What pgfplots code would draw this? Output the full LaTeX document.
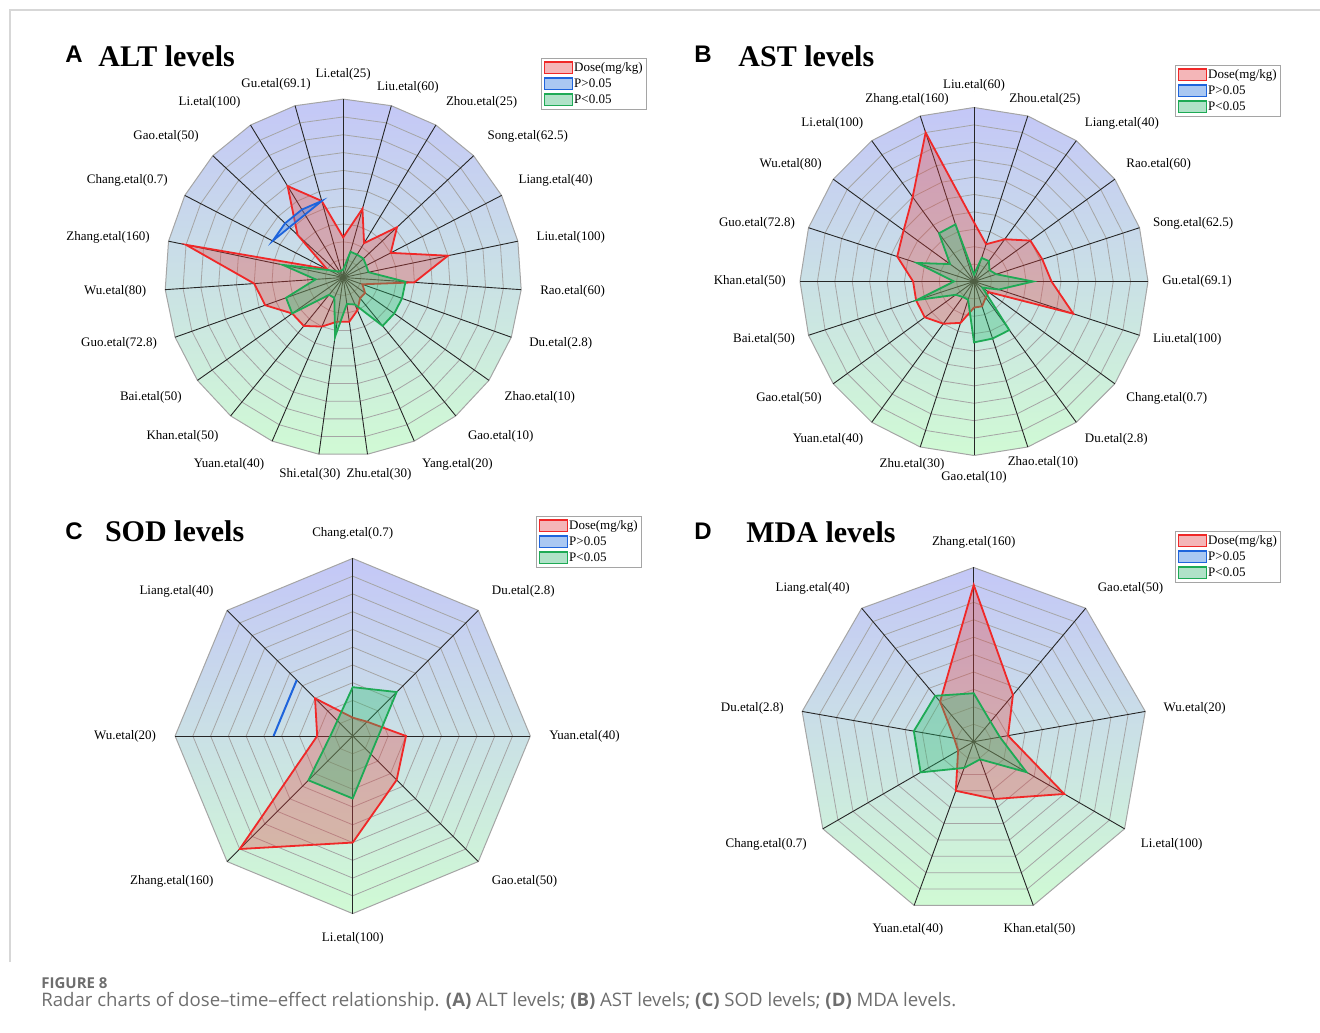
\documentclass[border=0pt]{standalone}
\usepackage{fontspec}
\setmainfont{Liberation Serif}
\newfontfamily\sansA{Liberation Sans}
\newfontfamily\capfont{Open Sans}
\usepackage{pgfplots}
\usepackage{pgfplotstable}
\pgfplotsset{compat=1.18}

\definecolor{bgTop}{RGB}{196,199,247}
\definecolor{bgMid}{RGB}{204,230,240}
\definecolor{bgBot}{RGB}{208,250,212}
\definecolor{ringc}{RGB}{165,165,165}
\definecolor{redL}{RGB}{240,40,40}
\definecolor{redF}{RGB}{232,60,60}
\definecolor{grnL}{RGB}{30,170,85}
\definecolor{grnF}{RGB}{40,190,110}
\definecolor{bluL}{RGB}{30,100,220}
\definecolor{bluF}{RGB}{70,130,230}
\definecolor{redP}{RGB}{244,182,184}
\definecolor{bluP}{RGB}{170,200,242}
\definecolor{grnP}{RGB}{176,226,200}
\definecolor{capgray}{RGB}{110,110,110}
\definecolor{framec}{RGB}{215,215,215}

\newcommand\lbl{\fontsize{6.5pt}{7.5pt}\selectfont}

% radius in plot units = value + 20 (centre of each radar = -20, outer ring = 180)
\pgfplotstableread{
ang red green
90 45 9
74.348 80 30
58.696 45 30
43.043 82.5 31
27.391 60 29
11.739 120 29
-3.913 80 70
-19.565 22.8 70
-35.217 30 70
-50.870 30 70
-66.522 40 33
-82.174 50 30
-97.826 50 67
-113.478 60 25
-129.130 70 25
-144.783 70 70
-160.435 92.8 68
-176.087 100 31
-191.739 180 69
-207.391 20.7 18
-223.043 70 10
-238.696 120 8
-254.348 89.1 8
}\tA

\pgfplotstableread{
ang red green
90 68 8
72 45 28.5
54 60 29
36 80 22
18 82.5 27
0 89.1 68
-18 120 30
-36 20.7 12
-54 22.8 69
-72 30 69
-90 30 70
-108 50 22
-126 60 22
-144 70 26
-162 70 69
-180 70 23
-198 92.8 69
-216 100 34
-234 120 68.5
-252 180 69
}\tB

\pgfplotstableread{
ang red green
90 20.7 55
45 22.8 70
0 60 28.9
-45 70 28.9
-90 120 70.4
-135 180 70.5
-180 40 25.2
-225 60 24.4
}\tC

\pgfplotstableread{
ang red green
90 180 55.6
50 70 30
10 40 30.5
-30 120 70
-70 70 21.5
-110 60 32
-150 20.7 70.4
-190 22.8 69.8
-230 60 68.8
}\tD

\pgfplotsset{
  radar/.style={hide axis, clip=false, anchor=center,
    xmin=-200, xmax=200, ymin=-200, ymax=200,
    legend image code/.code={\draw[##1] (0pt,-2.9pt) rectangle (14pt,2.9pt);},
    legend style={draw=ringc, fill=white, font=\lbl, anchor=north west,
      inner xsep=1.2pt, inner ysep=1pt, row sep=0.6pt,
      nodes={inner sep=0.6pt, text height=4.8pt, text depth=1.4pt},
      legend cell align=left}},
  bgpoly/.style={data cs=polar, draw=ringc, line width=0.5pt, top color=bgTop, middle color=bgMid, bottom color=bgBot, forget plot},
  ring/.style={data cs=polar, draw=ringc, line width=0.4pt, forget plot},
  spoke/.style={data cs=polar, draw=black!85, line width=0.45pt, forget plot},
  redpoly/.style={data cs=polar, draw=redL, line width=0.9pt, fill=redF, fill opacity=0.32, forget plot},
  grnpoly/.style={data cs=polar, draw=grnL, line width=0.9pt, fill=grnF, fill opacity=0.35, forget plot},
  blupoly/.style={data cs=polar, draw=bluL, line width=0.9pt, fill=bluF, fill opacity=0.35, forget plot},
  lab/.style={data cs=polar, only marks, mark=*, mark size=0pt, mark options={draw=none, fill=none},
    point meta=explicit symbolic, nodes near coords={\pgfplotspointmeta},
    every node near coord/.append style={anchor=#1, font=\lbl, inner sep=0pt, text=black},
    forget plot},
  labs/.style n args={3}{lab=#1, every node near coord/.append style={xshift=#2, yshift=#3}},
}

\newcommand\legentries{%
  \addlegendimage{draw=redL, fill=redP, line width=0.6pt}
  \addlegendentry{Dose(mg/kg)}
  \addlegendimage{draw=bluL, fill=bluP, line width=0.6pt}
  \addlegendentry{P>0.05}
  \addlegendimage{draw=grnL, fill=grnP, line width=0.6pt}
  \addlegendentry{P<0.05}}

\begin{document}
\begin{tikzpicture}
\draw[framec, line width=0.6pt] (5pt,35pt) -- (5pt,511pt) -- (660pt,511pt);

% ---------------- A: ALT ----------------
\begin{axis}[radar, at={(171.6pt,377.25pt)}, x=0.446pt, y=0.446pt,
  legend style={at={(1.0544,1.1152)}}]
\addplot[bgpoly] table[x=ang, y expr=200]{\tA} -- cycle;
\pgfplotsinvokeforeach{20,40,...,180}{\addplot[ring] table[x=ang, y expr=#1]{\tA} -- cycle;}
\pgfplotsinvokeforeach{90,74.348,58.696,43.043,27.391,11.739,-3.913,-19.565,-35.217,-50.870,-66.522,-82.174,-97.826,-113.478,-129.130,-144.783,-160.435,-176.087,-191.739,-207.391,-223.043,-238.696,-254.348}{\addplot[spoke] coordinates {(#1,0) (#1,200)};}
\addplot[redpoly] table[x=ang, y=red]{\tA} -- cycle;
\addplot[grnpoly] table[x=ang, y=green]{\tA} -- cycle;
\addplot[blupoly] coordinates {(-254.348,89.1) (-238.696,89.1) (-223.043,89.1) (-207.391,89.1)} -- cycle;
\addplot[lab=south] coordinates {(90,221)[Li.etal(25)]};
\addplot[labs={center}{5.75pt}{0pt}] coordinates {(74.348,221)[Liu.etal(60)]};
\addplot[labs={center}{-7pt}{1.9pt}] coordinates {(-254.348,221)[Gu.etal(69.1)]};
\addplot[lab=south west] coordinates {(58.696,221)[Zhou.etal(25)] (43.043,221)[Song.etal(62.5)] (27.391,221)[Liang.etal(40)]};
\addplot[lab=west] coordinates {(11.739,221)[Liu.etal(100)] (-3.913,221)[Rao.etal(60)] (-19.565,221)[Du.etal(2.8)]};
\addplot[lab=north west] coordinates {(-35.217,221)[Zhao.etal(10)] (-50.870,221)[Gao.etal(10)] (-66.522,221)[Yang.etal(20)]};
\addplot[labs={center}{4.5pt}{-0.65pt}] coordinates {(-82.174,221)[Zhu.etal(30)]};
\addplot[labs={center}{-3.2pt}{-0.65pt}] coordinates {(-97.826,221)[Shi.etal(30)]};
\addplot[lab=north east] coordinates {(-113.478,221)[Yuan.etal(40)] (-129.130,221)[Khan.etal(50)] (-144.783,221)[Bai.etal(50)]};
\addplot[lab=east] coordinates {(-160.435,221)[Guo.etal(72.8)] (-176.087,221)[Wu.etal(80)] (-191.739,221)[Zhang.etal(160)]};
\addplot[lab=south east] coordinates {(-207.391,221)[Chang.etal(0.7)] (-223.043,221)[Gao.etal(50)] (-238.696,221)[Li.etal(100)]};
\legentries
\end{axis}

% ---------------- B: AST ----------------
\begin{axis}[radar, at={(487pt,375.25pt)}, x=0.435pt, y=0.435pt,
  legend style={at={(1.0776,1.1221)}}]
\addplot[bgpoly] table[x=ang, y expr=200]{\tB} -- cycle;
\pgfplotsinvokeforeach{20,40,...,180}{\addplot[ring] table[x=ang, y expr=#1]{\tB} -- cycle;}
\pgfplotsinvokeforeach{90,72,...,-252}{\addplot[spoke] coordinates {(#1,0) (#1,200)};}
\addplot[redpoly] table[x=ang, y=red]{\tB} -- cycle;
\addplot[grnpoly] table[x=ang, y=green]{\tB} -- cycle;
\addplot[lab=south] coordinates {(90,218)[Liu.etal(60)]};
\addplot[labs={center}{6.45pt}{1.85pt}] coordinates {(72,216)[Zhou.etal(25)]};
\addplot[labs={center}{-4.45pt}{1.85pt}] coordinates {(-252,216)[Zhang.etal(160)]};
\addplot[lab=south west] coordinates {(54,216)[Liang.etal(40)] (36,216)[Rao.etal(60)]};
\addplot[lab=west] coordinates {(18,216)[Song.etal(62.5)] (0,216)[Gu.etal(69.1)] (-18,216)[Liu.etal(100)]};
\addplot[lab=north west] coordinates {(-36,216)[Chang.etal(0.7)] (-54,216)[Du.etal(2.8)]};
\addplot[labs={center}{5.45pt}{-0.85pt}] coordinates {(-72,216)[Zhao.etal(10)]};
\addplot[lab=north] coordinates {(-90,218)[Gao.etal(10)]};
\addplot[labs={center}{-1.95pt}{-1.85pt}] coordinates {(-108,216)[Zhu.etal(30)]};
\addplot[lab=north east] coordinates {(-126,216)[Yuan.etal(40)] (-144,216)[Gao.etal(50)]};
\addplot[lab=east] coordinates {(-162,216)[Bai.etal(50)] (-180,216)[Khan.etal(50)] (-198,216)[Guo.etal(72.8)]};
\addplot[lab=south east] coordinates {(-216,216)[Wu.etal(80)] (-234,216)[Li.etal(100)]};
\legentries
\end{axis}

% ---------------- C: SOD ----------------
\begin{axis}[radar, at={(176.35pt,148pt)}, x=0.444pt, y=0.444pt,
  legend style={at={(1.016,1.1194)}}]
\addplot[bgpoly] table[x=ang, y expr=200]{\tC} -- cycle;
\pgfplotsinvokeforeach{20,40,...,180}{\addplot[ring] table[x=ang, y expr=#1]{\tC} -- cycle;}
\pgfplotsinvokeforeach{90,45,...,-225}{\addplot[spoke] coordinates {(#1,0) (#1,200)};}
\addplot[redpoly] table[x=ang, y=red]{\tC} -- cycle;
\addplot[grnpoly] table[x=ang, y=green]{\tC} -- cycle;
\addplot[data cs=polar, draw=bluL, line width=1pt, forget plot] coordinates {(-225,89.1) (-180,89.1)};
\addplot[lab=south] coordinates {(90,221)[Chang.etal(0.7)]};
\addplot[lab=south west] coordinates {(45,221)[Du.etal(2.8)]};
\addplot[lab=west] coordinates {(0,221)[Yuan.etal(40)]};
\addplot[lab=north west] coordinates {(-45,221)[Gao.etal(50)]};
\addplot[lab=north] coordinates {(-90,221)[Li.etal(100)]};
\addplot[lab=north east] coordinates {(-135,221)[Zhang.etal(160)]};
\addplot[lab=east] coordinates {(-180,221)[Wu.etal(20)]};
\addplot[lab=south east] coordinates {(-225,221)[Liang.etal(40)]};
\legentries
\end{axis}

% ---------------- D: MDA ----------------
\begin{axis}[radar, at={(486.85pt,145.15pt)}, x=0.4355pt, y=0.4355pt,
  legend style={at={(1.0778,1.1048)}}]
\addplot[bgpoly] table[x=ang, y expr=200]{\tD} -- cycle;
\pgfplotsinvokeforeach{20,40,...,180}{\addplot[ring] table[x=ang, y expr=#1]{\tD} -- cycle;}
\pgfplotsinvokeforeach{90,50,...,-230}{\addplot[spoke] coordinates {(#1,0) (#1,200)};}
\addplot[redpoly] table[x=ang, y=red]{\tD} -- cycle;
\addplot[grnpoly] table[x=ang, y=green]{\tD} -- cycle;
\addplot[lab=south] coordinates {(90,221)[Zhang.etal(160)]};
\addplot[lab=south west] coordinates {(50,221)[Gao.etal(50)]};
\addplot[lab=west] coordinates {(10,221)[Wu.etal(20)]};
\addplot[lab=north west] coordinates {(-30,221)[Li.etal(100)]};
\addplot[lab=north] coordinates {(-70,221)[Khan.etal(50)] (-110,221)[Yuan.etal(40)]};
\addplot[lab=north east] coordinates {(-150,221)[Chang.etal(0.7)]};
\addplot[lab=east] coordinates {(-190,221)[Du.etal(2.8)]};
\addplot[lab=south east] coordinates {(-230,221)[Liang.etal(40)]};
\legentries
\end{axis}

% titles
\node[anchor=base west, inner sep=0pt, font=\sansA\bfseries\fontsize{12pt}{12pt}\selectfont] at (32.5pt,484.5pt) {A};
\node[anchor=base west, inner sep=0pt, font=\bfseries\fontsize{15pt}{15pt}\selectfont] at (49pt,482.7pt) {ALT levels};
\node[anchor=base west, inner sep=0pt, font=\sansA\bfseries\fontsize{12pt}{12pt}\selectfont] at (347pt,484.5pt) {B};
\node[anchor=base west, inner sep=0pt, font=\bfseries\fontsize{15pt}{15pt}\selectfont] at (369pt,482.7pt) {AST levels};
\node[anchor=base west, inner sep=0pt, font=\sansA\bfseries\fontsize{12pt}{12pt}\selectfont] at (32.5pt,246pt) {C};
\node[anchor=base west, inner sep=0pt, font=\bfseries\fontsize{15pt}{15pt}\selectfont] at (52.3pt,245.2pt) {SOD levels};
\node[anchor=base west, inner sep=0pt, font=\sansA\bfseries\fontsize{12pt}{12pt}\selectfont] at (347pt,246pt) {D};
\node[anchor=base west, inner sep=0pt, font=\bfseries\fontsize{15pt}{15pt}\selectfont] at (373pt,244.5pt) {MDA levels};

% caption
\node[anchor=base west, inner sep=0pt, text=capgray, font=\capfont\bfseries\fontsize{7.5pt}{9pt}\selectfont] at (20.5pt,22pt) {FIGURE 8};
\node[anchor=base west, inner sep=0pt, text=capgray, font=\capfont\fontsize{9.3pt}{11pt}\selectfont] at (20.5pt,13pt) {Radar charts of dose–time–effect relationship. \textbf{(A)} ALT levels; \textbf{(B)} AST levels; \textbf{(C)} SOD levels; \textbf{(D)} MDA levels.};

\pgfresetboundingbox
\path[use as bounding box] (0pt,0pt) rectangle (660pt,516pt);
\end{tikzpicture}
\end{document}
